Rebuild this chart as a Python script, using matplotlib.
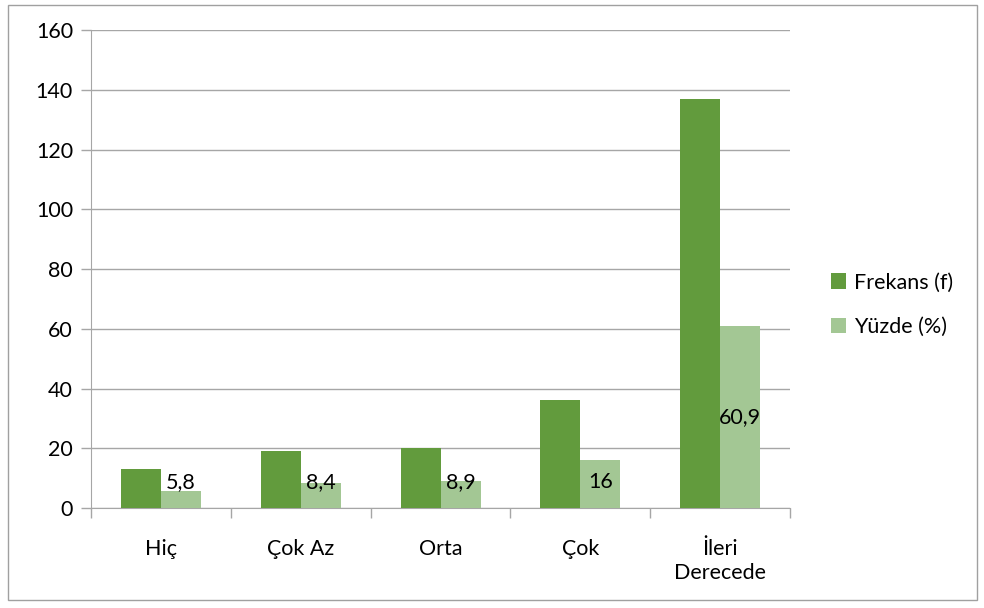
import matplotlib.pyplot as plt
import numpy as np
from matplotlib.patches import Rectangle

categories = ['Hiç', 'Çok Az', 'Orta', 'Çok', 'İleri\nDerecede']
frekans = [13, 19, 20, 36, 137]
yuzde = [5.8, 8.4, 8.9, 16, 60.9]
yuzde_labels = ['5,8', '8,4', '8,9', '16', '60,9']

plt.rcParams['font.family'] = ['Lato', 'DejaVu Sans']

dark = '#629b3d'
light = '#a3c794'
grid_c = '#a6a6a6'
fs = 15.5

fig = plt.figure(figsize=(9.84, 6.08), dpi=100)
ax = fig.add_axes([0.0925, 0.1645, 0.7105, 0.786])

# outer chart border
fig.patches.append(Rectangle((8 / 984, 8 / 608), 969 / 984, 595 / 608,
                             transform=fig.transFigure, fill=False,
                             edgecolor='#a0a0a0', linewidth=1))

x = np.arange(len(categories))
w = 0.286
ax.bar(x - w / 2, frekans, width=w, color=dark, label='Frekans (f)', zorder=3)
ax.bar(x + w / 2, yuzde, width=w, color=light, label='Yüzde (%)', zorder=3)

for xi, v, lab in zip(x, yuzde, yuzde_labels):
    ax.text(xi + w / 2, max(v / 2, 8.6), lab, ha='center', va='center',
            fontsize=fs, color='black', zorder=4)

ax.set_xlim(-0.5, 4.5)
ax.set_ylim(0, 160)
ax.set_yticks(range(0, 161, 20))
ax.yaxis.grid(True, color=grid_c, linewidth=1, zorder=0)

ax.set_xticks(x)
ax.set_xticklabels(categories, fontsize=fs, linespacing=1.3)
ax.set_xticks(np.arange(-0.5, 5, 1), minor=True)
ax.tick_params(axis='x', which='major', length=0, pad=22)
ax.tick_params(axis='x', which='minor', length=7, color=grid_c, width=1)
ax.tick_params(axis='y', length=7, color=grid_c, width=1, labelsize=fs, pad=6)

for s in ['top', 'right']:
    ax.spines[s].set_visible(False)
ax.spines['left'].set_color(grid_c)
ax.spines['bottom'].set_color(grid_c)

leg = ax.legend(loc='center left', bbox_to_anchor=(1.03, 0.425), frameon=False,
                fontsize=fs, handlelength=0.7, handleheight=0.7,
                labelspacing=1.15, handletextpad=0.4)

plt.savefig('out.png', dpi=100)
